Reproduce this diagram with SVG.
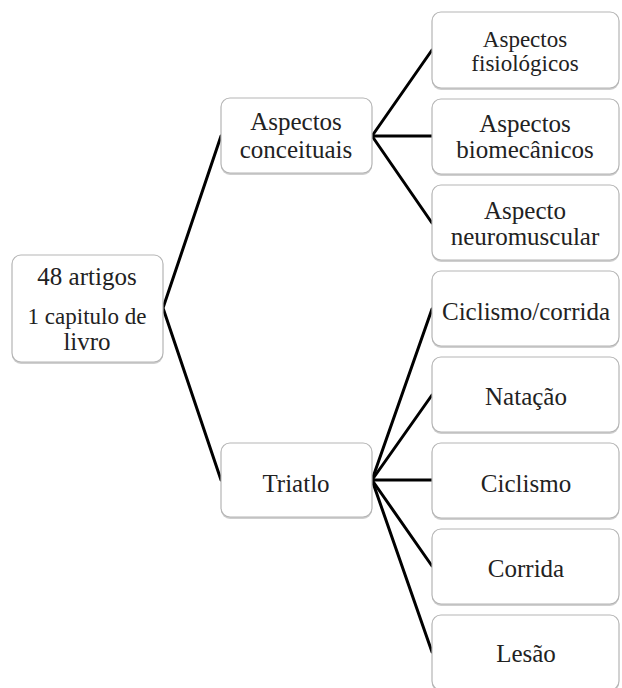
<svg xmlns="http://www.w3.org/2000/svg" width="622" height="688" viewBox="0 0 622 688" font-family="'Liberation Serif', 'Times New Roman', serif">
<rect width="622" height="688" fill="#fff"/>
<g id="connectors" stroke="#000" stroke-width="3" fill="none" stroke-linecap="round" stroke-linejoin="round">
<polyline points="221,136 163,308 221,480"/>
<polyline points="432,50 372,136 432,223"/>
<line x1="372" y1="136" x2="432" y2="136"/>
<line x1="372" y1="480" x2="432" y2="309"/>
<line x1="372" y1="480" x2="432" y2="395"/>
<line x1="372" y1="480" x2="432" y2="480"/>
<line x1="372" y1="480" x2="432" y2="566"/>
<line x1="372" y1="480" x2="432" y2="652"/>
</g>
<g id="root">
<rect x="12" y="257" width="151" height="107" rx="9" fill="#cfcfcf"/>
<rect x="12" y="255" width="151" height="107" rx="9" fill="#fff" stroke="#b5b5b5" stroke-width="1.2"/>
<text x="87" y="285" style="font-family:'Liberation Serif',serif;font-size:25px" text-anchor="middle" fill="#222">48 artigos</text>
<text x="87" y="324" style="font-family:'Liberation Serif',serif;font-size:23px" text-anchor="middle" fill="#222">1 capitulo de</text>
<text x="87" y="350" style="font-family:'Liberation Serif',serif;font-size:25px" text-anchor="middle" fill="#222">livro</text>
</g>
<g id="conceituais">
<rect x="221" y="100" width="151" height="75" rx="9" fill="#cfcfcf"/>
<rect x="221" y="98" width="151" height="75" rx="9" fill="#fff" stroke="#b5b5b5" stroke-width="1.2"/>
<text x="296" y="130" style="font-family:'Liberation Serif',serif;font-size:25px" text-anchor="middle" fill="#222">Aspectos</text>
<text x="296" y="158" style="font-family:'Liberation Serif',serif;font-size:25px" text-anchor="middle" fill="#222">conceituais</text>
</g>
<g id="triatlo">
<rect x="221" y="445" width="151" height="74" rx="9" fill="#cfcfcf"/>
<rect x="221" y="443" width="151" height="74" rx="9" fill="#fff" stroke="#b5b5b5" stroke-width="1.2"/>
<text x="296" y="492" style="font-family:'Liberation Serif',serif;font-size:25px" text-anchor="middle" fill="#222">Triatlo</text>
</g>
<g id="fisiologicos">
<rect x="432" y="14" width="187" height="76" rx="9" fill="#cfcfcf"/>
<rect x="432" y="12" width="187" height="76" rx="9" fill="#fff" stroke="#b5b5b5" stroke-width="1.2"/>
<text x="525" y="47" style="font-family:'Liberation Serif',serif;font-size:23px" text-anchor="middle" fill="#222">Aspectos</text>
<text x="525" y="71" style="font-family:'Liberation Serif',serif;font-size:23px" text-anchor="middle" fill="#222">fisiológicos</text>
</g>
<g id="biomecanicos">
<rect x="432" y="101" width="187" height="75" rx="9" fill="#cfcfcf"/>
<rect x="432" y="99" width="187" height="75" rx="9" fill="#fff" stroke="#b5b5b5" stroke-width="1.2"/>
<text x="525" y="132" style="font-family:'Liberation Serif',serif;font-size:25px" text-anchor="middle" fill="#222">Aspectos</text>
<text x="525" y="158" style="font-family:'Liberation Serif',serif;font-size:25px" text-anchor="middle" fill="#222">biomecânicos</text>
</g>
<g id="neuromuscular">
<rect x="432" y="187" width="187" height="75" rx="9" fill="#cfcfcf"/>
<rect x="432" y="185" width="187" height="75" rx="9" fill="#fff" stroke="#b5b5b5" stroke-width="1.2"/>
<text x="525" y="219" style="font-family:'Liberation Serif',serif;font-size:25px" text-anchor="middle" fill="#222">Aspecto</text>
<text x="525" y="245" style="font-family:'Liberation Serif',serif;font-size:25px" text-anchor="middle" fill="#222">neuromuscular</text>
</g>
<g id="ciclismo-corrida">
<rect x="432" y="273" width="187" height="75" rx="9" fill="#cfcfcf"/>
<rect x="432" y="271" width="187" height="75" rx="9" fill="#fff" stroke="#b5b5b5" stroke-width="1.2"/>
<text x="526" y="320" style="font-family:'Liberation Serif',serif;font-size:25px" text-anchor="middle" fill="#222">Ciclismo/corrida</text>
</g>
<g id="natacao">
<rect x="432" y="359" width="187" height="75" rx="9" fill="#cfcfcf"/>
<rect x="432" y="357" width="187" height="75" rx="9" fill="#fff" stroke="#b5b5b5" stroke-width="1.2"/>
<text x="526" y="405" style="font-family:'Liberation Serif',serif;font-size:25px" text-anchor="middle" fill="#222">Natação</text>
</g>
<g id="ciclismo">
<rect x="432" y="445" width="187" height="75" rx="9" fill="#cfcfcf"/>
<rect x="432" y="443" width="187" height="75" rx="9" fill="#fff" stroke="#b5b5b5" stroke-width="1.2"/>
<text x="526" y="492" style="font-family:'Liberation Serif',serif;font-size:25px" text-anchor="middle" fill="#222">Ciclismo</text>
</g>
<g id="corrida">
<rect x="432" y="531" width="187" height="75" rx="9" fill="#cfcfcf"/>
<rect x="432" y="529" width="187" height="75" rx="9" fill="#fff" stroke="#b5b5b5" stroke-width="1.2"/>
<text x="526" y="577" style="font-family:'Liberation Serif',serif;font-size:25px" text-anchor="middle" fill="#222">Corrida</text>
</g>
<g id="lesao">
<rect x="432" y="617" width="187" height="75" rx="9" fill="#cfcfcf"/>
<rect x="432" y="615" width="187" height="75" rx="9" fill="#fff" stroke="#b5b5b5" stroke-width="1.2"/>
<text x="526" y="662" style="font-family:'Liberation Serif',serif;font-size:25px" text-anchor="middle" fill="#222">Lesão</text>
</g>
</svg>
